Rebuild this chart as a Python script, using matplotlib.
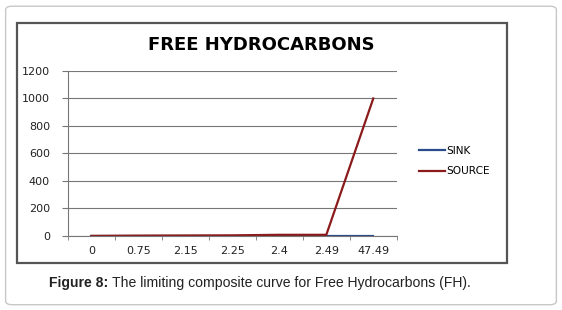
import numpy as np
import matplotlib.pyplot as plt
from matplotlib.patches import Rectangle, FancyBboxPatch

## Data
categories = ['0', '0.75', '2.15', '2.25', '2.4', '2.49', '47.49']
sink = [0, 0, 0, 0, 0, 0, 0]
source = [0, 2, 3, 4, 8, 8, 1000]

fig = plt.figure(figsize=(5.62, 3.10), dpi=100)

## Outer rounded box and chart frame
fig.patches.append(FancyBboxPatch((0.010, 0.017), 0.980, 0.963,
                                  boxstyle='round,pad=0,rounding_size=0.012',
                                  transform=fig.transFigure, fill=False,
                                  edgecolor='#c8c8c8', lw=1.0))
fig.patches.append(Rectangle((0.031, 0.152), 0.871, 0.774,
                             transform=fig.transFigure, fill=False,
                             edgecolor='#555555', lw=1.6))

ax = fig.add_axes([0.121, 0.239, 0.585, 0.532])
x = np.arange(len(categories))
ax.plot(x, sink, color='#2a4a8a', lw=1.6, label='SINK')
ax.plot(x, source, color='#8b1a1a', lw=1.6, label='SOURCE')

ax.set_xlim(-0.5, len(categories) - 0.5)
ax.set_ylim(0, 1200)
ax.set_yticks(np.arange(0, 1201, 200))
ax.set_xticks(x)
ax.set_xticklabels(categories)
ax.set_xticks(np.arange(-0.5, len(categories)), minor=True)
ax.tick_params(axis='x', which='major', length=0, pad=7, labelsize=8, colors='#222222')
ax.tick_params(axis='x', which='minor', length=3, color='#777777', direction='out')
ax.tick_params(axis='y', length=4, color='#777777', labelsize=8, colors='#222222', pad=9)
ax.yaxis.grid(True, color='#777777', lw=0.8)
ax.set_axisbelow(True)
for s in ['top', 'right']:
    ax.spines[s].set_visible(False)
for s in ['left', 'bottom']:
    ax.spines[s].set_color('#777777')
    ax.spines[s].set_linewidth(0.8)

fig.text(0.465, 0.855, 'FREE HYDROCARBONS', ha='center', va='center',
         fontsize=13, fontweight='bold', family='DejaVu Sans')

fig.legend(loc='center left', bbox_to_anchor=(0.728, 0.48), frameon=False,
           fontsize=7.6, handlelength=2.5, handletextpad=0.15, labelspacing=1.0)

## Caption: bold label then plain text right after it
t1 = fig.text(0.087, 0.088, 'Figure 8: ', ha='left', va='center', fontsize=10.1,
              fontweight='bold', family='Liberation Sans', color='#222222')
r = fig.canvas.get_renderer()
bb = t1.get_window_extent(renderer=r)
fig.text(bb.x1 / fig.bbox.width, 0.088,
         'The limiting composite curve for Free Hydrocarbons (FH).',
         ha='left', va='center', fontsize=10.1, family='Liberation Sans', color='#222222')

fig.savefig('out.png', dpi=100)
